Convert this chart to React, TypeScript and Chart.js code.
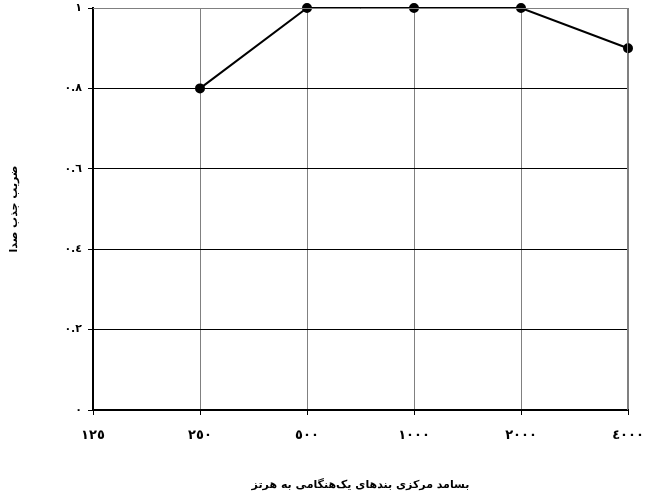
import React, { useEffect, useRef } from "react";
import { Chart, registerables } from "chart.js";

Chart.register(...registerables);

const categories = ["١٢٥", "٢٥٠", "٥٠٠", "١٠٠٠", "٢٠٠٠", "٤٠٠٠"];
const absorption: (number | null)[] = [null, 0.8, 1, 1, 1, 0.9];
const yTickValues = [0, 0.2, 0.4, 0.6, 0.8, 1];
const yTickLabels = ["٠", "٠.٢", "٠.٤", "٠.٦", "٠.٨", "١"];
const xTitle = "بسامد مرکزی بندهای یک‌هنگامی به هرتز";
const yTitle = "ضریب جذب صدا";

const FONT = "'DejaVu Sans', 'Noto Sans', sans-serif";

export default function App() {
  const ref = useRef<HTMLCanvasElement | null>(null);
  useEffect(() => {
    document.body.style.margin = "0";
    const ctx = ref.current!;
    const chart = new Chart(ctx, {
      type: "line",
      data: {
        labels: categories,
        datasets: [
          {
            data: absorption,
            borderColor: "#000",
            backgroundColor: "#000",
            borderWidth: 2,
            pointRadius: 4,
            pointBackgroundColor: "#000",
            pointBorderColor: "#000",
            tension: 0,
            clip: false as any,
            spanGaps: false,
          },
        ],
      },
      options: {
        animation: false,
        responsive: false,
        maintainAspectRatio: false,
        devicePixelRatio: 1,
        layout: { padding: { left: 0, right: 18, top: 8, bottom: 0 } },
        plugins: { legend: { display: false }, tooltip: { enabled: false } },
        scales: {
          x: {
            offset: false,
            grid: {
              offset: false,
              color: "#808080",
              lineWidth: 1,
              tickLength: 5,
              tickColor: "#000",
            },
            border: { color: "#000", width: 2 },
            ticks: {
              color: "#000",
              padding: 13,
              maxRotation: 0,
              font: { family: FONT, size: 13, weight: "bold" },
            },
            title: {
              display: true,
              text: xTitle,
              color: "#000",
              font: { family: FONT, size: 11, weight: "bold" },
              padding: { top: 0, bottom: 5 },
            },
            afterFit: (s: any) => {
              s.height = 87;
              s.paddingLeft = 0;
              s.paddingRight = 0;
            },
          },
          y: {
            min: 0,
            max: 1,
            afterBuildTicks: (s: any) => {
              s.ticks = yTickValues.map((v) => ({ value: v }));
            },
            grid: {
              color: (c: any) => (c.tick && c.tick.value === 1 ? "#808080" : "#000"),
              lineWidth: 1,
              tickLength: 5,
              tickColor: "#000",
            },
            border: { color: "#000", width: 2 },
            ticks: {
              color: "#000",
              padding: 6,
              font: { family: FONT, size: 11, weight: "bold" },
              callback: (v: any) => {
                const i = yTickValues.findIndex((t) => Math.abs(t - Number(v)) < 1e-9);
                return i >= 0 ? yTickLabels[i] : "";
              },
            },
            title: {
              display: true,
              text: yTitle,
              color: "#000",
              font: { family: FONT, size: 11, weight: "bold" },
              padding: { top: 8, bottom: 0 },
            },
            afterFit: (s: any) => {
              s.width = 93;
              s.paddingTop = 0;
              s.paddingBottom = 0;
            },
          },
        },
      },
      plugins: [
        {
          id: "frame",
          afterDraw: (c: any) => {
            const { left, right, top } = c.chartArea;
            const g = c.ctx;
            g.save();
            g.strokeStyle = "#808080";
            g.lineWidth = 1;
            g.beginPath();
            g.moveTo(left, top + 0.5);
            g.lineTo(right, top + 0.5);
            g.moveTo(right - 0.5, top);
            g.lineTo(right - 0.5, c.chartArea.bottom);
            g.stroke();
            g.restore();
          },
        },
      ],
    });
    return () => chart.destroy();
  }, []);
  return (
    <div style={{ position: "absolute", left: 0, top: 0, width: 646, height: 497, background: "#fff" }}>
      <canvas ref={ref} width={646} height={497} style={{ width: 646, height: 497 }} />
    </div>
  );
}
